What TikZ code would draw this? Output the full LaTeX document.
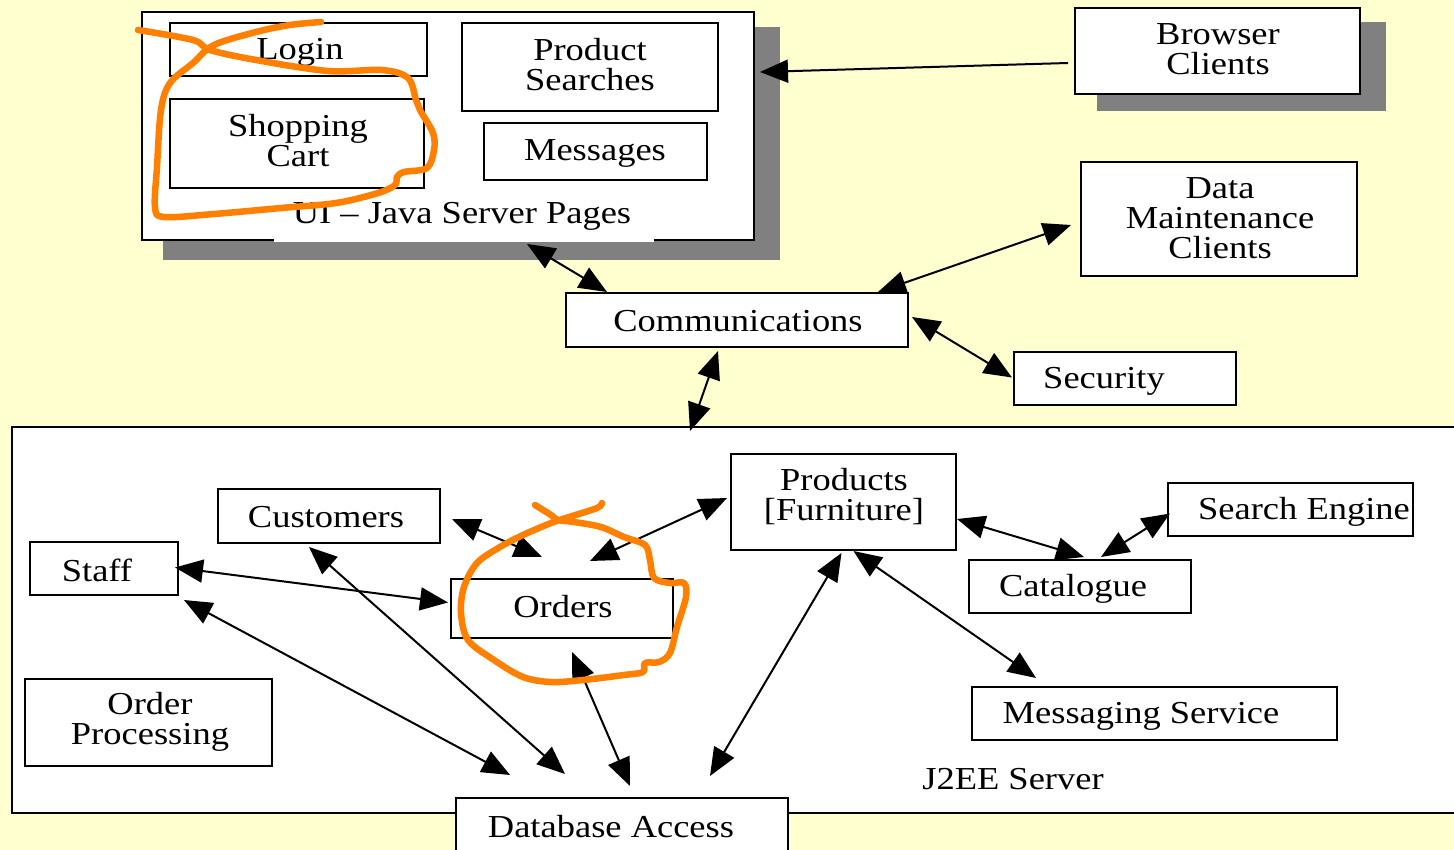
\documentclass[tikz,border=0pt]{standalone}
\usepackage{fontspec}
\setmainfont[FakeStretch=1.14]{Liberation Serif}
\usetikzlibrary{arrows.meta}
\definecolor{paper}{HTML}{FFFFD0}
\definecolor{shadowgray}{HTML}{808080}
\definecolor{marker}{HTML}{FF7F00}
\tikzset{
  box/.style={draw=black, fill=white, line width=2pt, inner sep=0pt, outer sep=0pt},
  lbl/.style={inner sep=0pt, align=center, font=\fontsize{32}{30}\selectfont},
  tip/.tip={Triangle[length=28pt,width=23pt]},
  link/.style={line width=2pt, tip-tip},
  oneway/.style={line width=2pt, -tip},
  ink/.style={draw=marker, line width=6.5pt, line cap=round, line join=round},
}
\begin{document}
\begin{tikzpicture}[x=1pt,y=-1pt]
\useasboundingbox (0,0) rectangle (1454,850);
\fill[paper] (0,0) rectangle (1454,850);
\clip (0,0) rectangle (1454,850);

% ---------- UI tier ----------
\fill[shadowgray] (163,27) rectangle (780,260);
\node[box, anchor=north west, minimum width=612, minimum height=228] (ui) at (142,12) {};
\node[box, anchor=north west, minimum width=257, minimum height=53] (login) at (170,23) {};
\node[lbl] (login-t) at (300,52) {Login};
\node[box, anchor=north west, minimum width=256, minimum height=88] (search) at (462,23) {};
\node[lbl] (search-t) at (590,65) {Product\\Searches};
\node[box, anchor=north west, minimum width=254, minimum height=89] (cart) at (170,99) {};
\node[lbl] (cart-t) at (298,141) {Shopping\\Cart};
\node[box, anchor=north west, minimum width=223, minimum height=57] (msgs) at (484,123) {};
\node[lbl] (msgs-t) at (595,153) {Messages};
\node[lbl, fill=white, minimum width=380, minimum height=44] (ui-t) at (464,220) {};
\node[lbl] (ui-l) at (462,216) {UI -- Java Server Pages};

% ---------- clients and middle tier ----------
\fill[shadowgray] (1097,22) rectangle (1386,111);
\node[box, anchor=north west, minimum width=285, minimum height=86] (browser) at (1075,8) {};
\node[lbl] (browser-t) at (1218,49) {Browser\\Clients};
\node[box, anchor=north west, minimum width=276, minimum height=114] (maint) at (1081,162) {};
\node[lbl] (maint-t) at (1220,218) {Data\\Maintenance\\Clients};
\node[box, anchor=north west, minimum width=342, minimum height=54] (comm) at (566,293) {};
\node[lbl] (comm-t) at (738,321) {Communications};
\node[box, anchor=north west, minimum width=222, minimum height=53] (sec) at (1014,352) {};
\node[lbl] (sec-t) at (1104,381) {Security};

% ---------- J2EE server ----------
\node[box, anchor=north west, minimum width=1460, minimum height=386] (j2ee) at (12,427) {};
\node[lbl] (j2ee-t) at (1013,779) {J2EE Server};
\node[box, anchor=north west, minimum width=332, minimum height=90] (db) at (456,798) {};
\node[lbl] (db-t) at (611,827) {Database Access};

\node[box, anchor=north west, minimum width=222, minimum height=54] (cust) at (218,489) {};
\node[lbl] (cust-t) at (326,517) {Customers};
\node[box, anchor=north west, minimum width=148, minimum height=53] (staff) at (30,542) {};
\node[lbl] (staff-t) at (97,570) {Staff};
\node[box, anchor=north west, minimum width=247, minimum height=87] (oproc) at (25,679) {};
\node[lbl] (oproc-t) at (150,722) {Order\\Processing};
\node[box, anchor=north west, minimum width=222, minimum height=59] (orders) at (451,579) {};
\node[lbl] (orders-t) at (563,607) {Orders};
\node[box, anchor=north west, minimum width=225, minimum height=96] (prod) at (731,454) {};
\node[lbl] (prod-t) at (844,497) {Products\\{[Furniture]}};
\node[box, anchor=north west, minimum width=245, minimum height=53] (engine) at (1168,483) {};
\node[lbl] (engine-t) at (1304,512) {Search Engine};
\node[box, anchor=north west, minimum width=222, minimum height=53] (cat) at (969,560) {};
\node[lbl] (cat-t) at (1073,589) {Catalogue};
\node[box, anchor=north west, minimum width=365, minimum height=53] (msgsvc) at (972,687) {};
\node[lbl] (msgsvc-t) at (1141,716) {Messaging Service};

% ---------- connectors ----------
\draw[oneway] ([shift={(-7,12)}]browser.west) -- ([shift={(6,-54)}]ui.east);
\draw[link] ([shift={(79,4)}]ui.south) -- ([shift={(41,-1)}]comm.north west);
\draw[link] ([shift={(-30,-1)}]comm.north east) -- ([shift={(-10,6)}]maint.west);
\draw[link] ([shift={(4,-3)}]comm.east) -- ([shift={(-2,-1)}]sec.west);
\draw[link] ([shift={(-19,4)}]comm.south) -- ([shift={(678,4)}]j2ee.north west);

\draw[link] ([shift={(12,3)}]cust.east) -- ([shift={(-20,-22)}]orders.north);
\draw[link] ([shift={(28,-18)}]orders.north) -- ([shift={(-4,-4)}]prod.west);
\draw[link] ([shift={(-3,-1)}]staff.east) -- ([shift={(-3,-6)}]orders.west);
\draw[link] ([shift={(6,5)}]staff.south east) -- ([shift={(54,-23)}]db.north west);
\draw[link] ([shift={(-20,4)}]cust.south) -- ([shift={(109,-24)}]db.north west);
\draw[link] ([shift={(10,14)}]orders.south) -- ([shift={(174,-12)}]db.north west);
\draw[link] ([shift={(-2,3)}]prod.south) -- ([shift={(254,-22)}]db.north west);
\draw[link] ([shift={(10,1)}]prod.south) -- ([shift={(64,-9)}]msgsvc.north west);
\draw[link] ([shift={(1,17)}]prod.east) -- ([shift={(4,-3)}]cat.north);
\draw[link] ([shift={(21,-3)}]cat.north) -- ([shift={(2,4)}]engine.west);

% ---------- hand-drawn marker strokes ----------
\draw[ink] plot[smooth, tension=0.55] coordinates {
  (138,30) (193,40) (210,50) (256,60) (328,71) (382,70) (408,78) (416,100)
  (420,110) (433,133) (434,150) (427,168) (404,172) (397,177) (395,185)
  (378,193) (336,203) (281,208) (214,214) (164,217) (155,207) (157,167)
  (161,110) (170,83) (193,63) (214,45) (256,32) (290,25) (321,22)};
\draw[ink] plot[smooth, tension=0.55] coordinates {
  (535,505) (551,515) (558,520) (574,522) (601,527) (624,537) (645,545)
  (650,560) (654,578) (670,583) (684,583) (686,597) (677,627) (670,653)
  (659,662) (645,663) (643,672) (624,675) (583,680) (551,682) (523,677)
  (494,660) (468,640) (461,613) (464,587) (477,563) (500,547) (523,535)
  (551,523) (569,517) (597,508) (602,503)};
\end{tikzpicture}
\end{document}
